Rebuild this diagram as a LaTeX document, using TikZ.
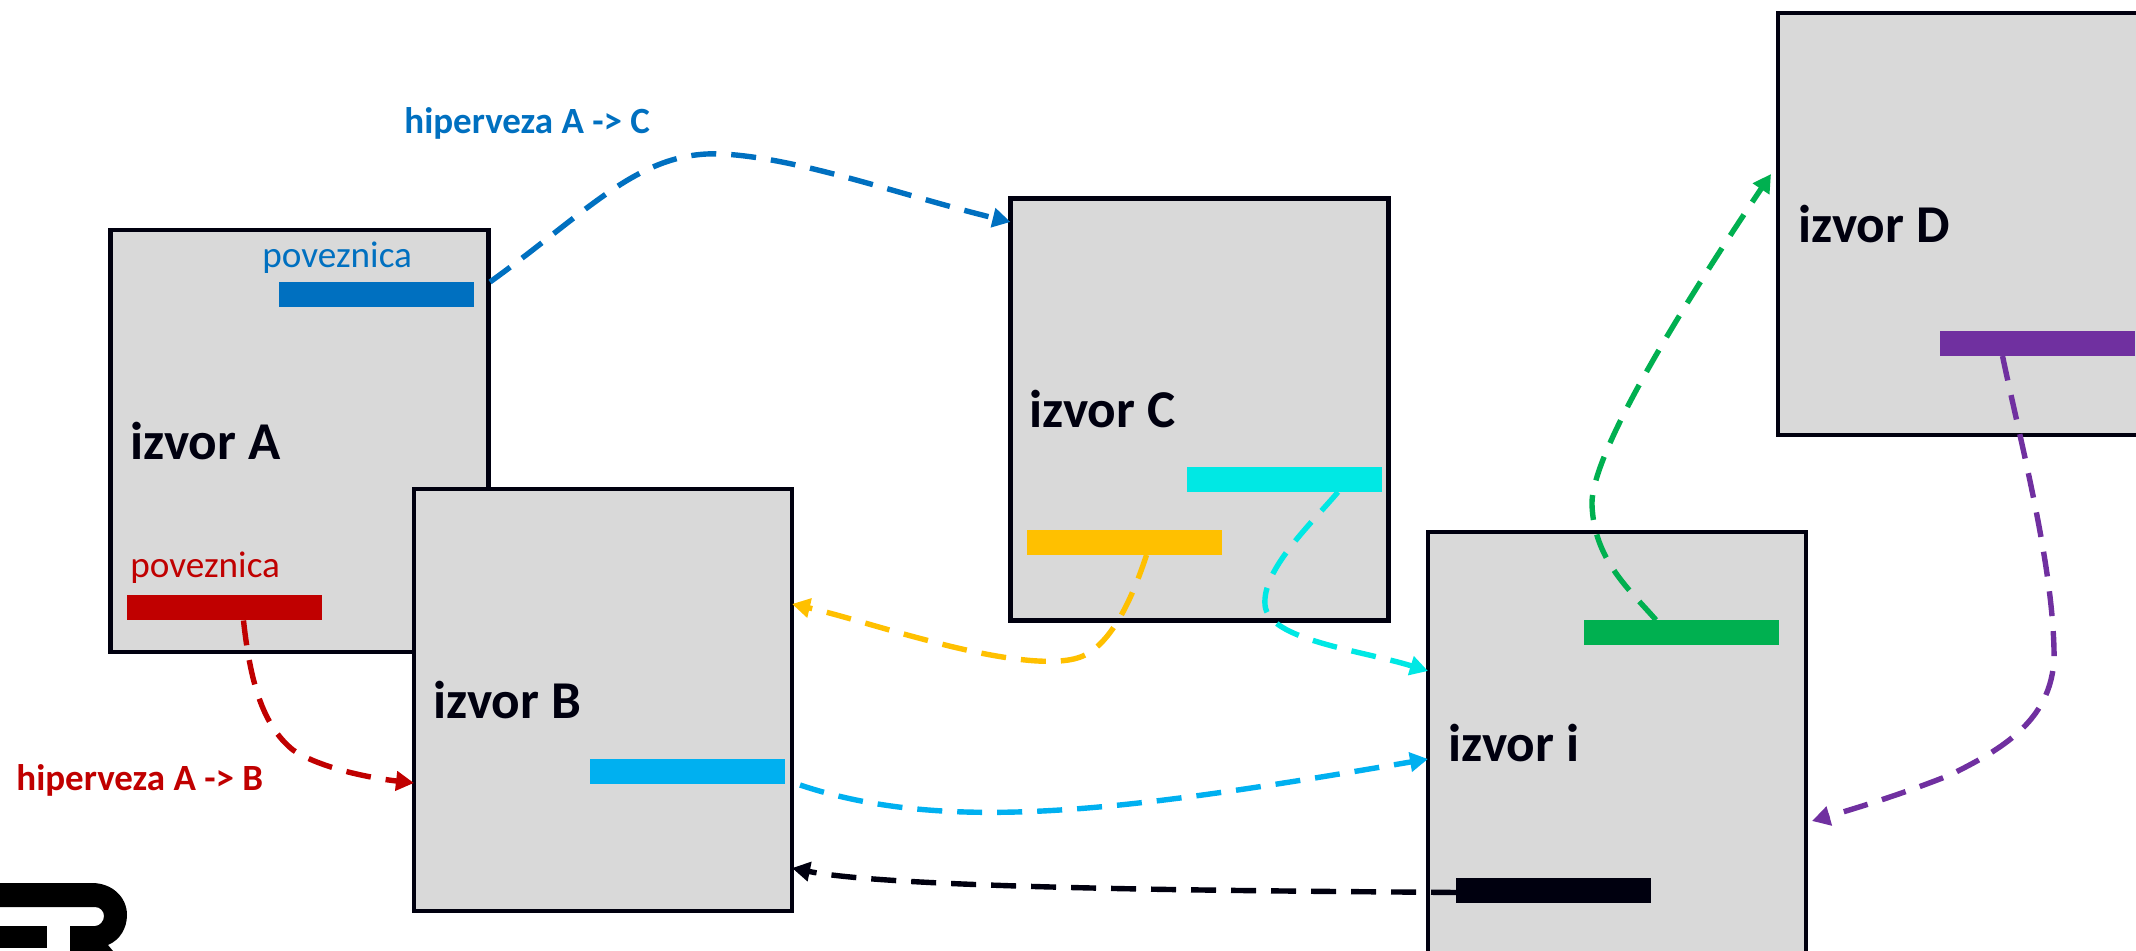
\documentclass[tikz,border=0pt]{standalone}
\usepackage{fontspec}
\setmainfont{Carlito}
\usetikzlibrary{arrows.meta}
\definecolor{inkblack}{HTML}{00000F}
\definecolor{boxgrey}{HTML}{D9D9D9}
\definecolor{linkblue}{HTML}{0070C0}
\definecolor{linkred}{HTML}{C00000}
\definecolor{linksky}{HTML}{00B0F0}
\definecolor{linkcyan}{HTML}{00E8E4}
\definecolor{linkamber}{HTML}{FFC000}
\definecolor{linkgreen}{HTML}{00B050}
\definecolor{linkpurple}{HTML}{7030A0}
\tikzset{
    sourcebox/.style={draw=inkblack,fill=boxgrey,line width=2.2pt,minimum width=189pt,minimum height=211pt,inner sep=0pt,outer sep=0pt},
    linkbar/.style={minimum width=97.5pt,minimum height=12.5pt,inner sep=0pt,outer sep=0pt},
    sourcename/.style={anchor=base west,inner sep=0pt,font=\fontsize{26.6pt}{30pt}\selectfont\bfseries},
    linkword/.style={anchor=base west,inner sep=0pt,font=\fontsize{18.6pt}{22pt}\selectfont},
    linkname/.style={anchor=base west,inner sep=0pt,font=\fontsize{18.5pt}{22pt}\selectfont\bfseries},
    hyperlink/.style={line width=2.7pt,dash pattern=on 12.5pt off 7.5pt,-{Triangle[length=9pt,width=9.5pt]}}
}
\begin{document}
\begin{tikzpicture}[x=0.5pt,y=-0.5pt]
    \useasboundingbox (0,0) rectangle (2136,951);
    \clip (0,0) rectangle (2136,951);
    \fill[black] (0,883) -- (92,883) .. controls (112,883) and (127,897) .. (127,915) .. controls (127,928) and (120,940) .. (108,945) -- (113,951) -- (70,951) -- (70,926) -- (95,926) .. controls (100,926) and (104,921) .. (104,916) .. controls (104,911) and (100,907) .. (95,907) -- (0,907) -- cycle;
    \fill[black] (0,926) rectangle (47,948);
    \node[sourcebox] (boxa) at (299.5,441) {};
    \node[sourcebox] (boxb) at (603,700) {};
    \node[sourcebox] (boxc) at (1199.5,409.5) {};
    \node[sourcebox] (boxd) at (1967,224) {};
    \node[sourcebox] (boxi) at (1617,743) {};
    \node[linkbar,fill=linkblue] (barblue) at (376,294.5) {};
    \node[linkbar,fill=linkred] (barred) at (224.5,608) {};
    \node[linkbar,fill=linksky] (barsky) at (687.5,771.5) {};
    \node[linkbar,fill=linkcyan] (barcyan) at (1284,479.5) {};
    \node[linkbar,fill=linkamber] (baramber) at (1124.5,542.5) {};
    \node[linkbar,fill=linkgreen] (bargreen) at (1681,632.5) {};
    \node[linkbar,fill=linkpurple] (barpurple) at (2037.5,343.5) {};
    \node[linkbar,fill=inkblack] (barblack) at (1553.5,890.5) {};
    \node[sourcename,text=inkblack] (namea) at (130,460) {izvor A};
    \node[sourcename,text=inkblack] (nameb) at (433,718) {izvor B};
    \node[sourcename,text=inkblack] (namec) at (1029,428) {izvor C};
    \node[sourcename,text=inkblack] (named) at (1798,243) {izvor D};
    \node[sourcename,text=inkblack] (namei) at (1448,761) {izvor i};
    \node[linkword,text=linkblue] (wordblue) at (262,268) {poveznica};
    \node[linkword,text=linkred] (wordred) at (130,578) {poveznica};
    \node[linkname,text=linkblue] (linkac) at (404,134) {hiperveza A -> C};
    \node[linkname,text=linkred] (linkab) at (16,790) {hiperveza A -> B};
    \draw[hyperlink,linkblue] ([xshift=57pt]barblue.north) .. controls (590,210) and (640,150) .. (722,154) .. controls (800,158) and (900,195) .. ([yshift=93.75pt]boxc.west);
    \draw[hyperlink,linkred] ([xshift=9.5pt]barred.south) .. controls (250,680) and (262,725) .. (293,750) .. controls (320,768) and (370,778) .. ([yshift=-41.5pt]boxb.west);
    \draw[hyperlink,linkamber] ([xshift=11pt]baramber.south) .. controls (1135,590) and (1115,640) .. (1085,655) .. controls (1060,668) and (1000,660) .. (926,640) .. controls (880,628) and (840,615) .. ([yshift=48pt]boxb.east);
    \draw[hyperlink,linkcyan] ([xshift=27pt]barcyan.south) .. controls (1310,525) and (1262,570) .. (1265,605) .. controls (1268,640) and (1360,650) .. ([yshift=36pt]boxi.west);
    \draw[hyperlink,linksky] ([xshift=7.5pt,yshift=-0.5pt]barsky.south east) .. controls (950,835) and (1130,810) .. ([yshift=-8pt]boxi.west);
    \draw[hyperlink,inkblack] ([yshift=-1pt]barblack.west) .. controls (1300,891) and (900,890) .. ([yshift=-84pt]boxb.east);
    \draw[hyperlink,linkgreen] ([xshift=-12.5pt]bargreen.north) .. controls (1630,590) and (1594,560) .. (1592,505) .. controls (1590,450) and (1700,280) .. ([xshift=-3.5pt,yshift=25pt]boxd.west);
    \draw[hyperlink,linkpurple] ([xshift=-17.5pt]barpurple.south) .. controls (2020,440) and (2052,560) .. (2054,650) .. controls (2056,720) and (2000,750) .. (1950,775) .. controls (1900,795) and (1850,810) .. ([xshift=3pt,yshift=-39pt]boxi.east);
\end{tikzpicture}
\end{document}
